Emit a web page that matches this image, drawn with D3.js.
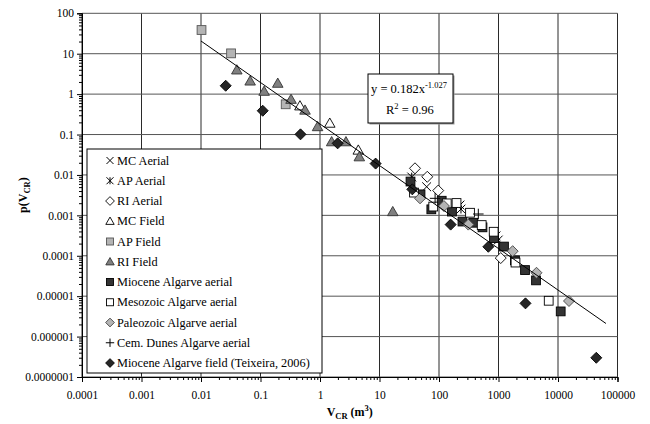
<!DOCTYPE html>
<html>
<head>
<meta charset="utf-8">
<script src="https://cdn.jsdelivr.net/npm/d3@7"></script>
<style>
  body { margin: 0; background: #fff; }
  text { font-family: "Liberation Serif", "Times New Roman", serif; }
</style>
</head>
<body>
<div id="chart"></div>
<script>
// series values [V_CR (m3), p(V_CR)]
var mcAerial = [[62, 0.0051], [225, 0.0018], [990, 0.000245]];
var apAerial = [[34.8, 0.0089], [234, 0.00143], [908, 0.00031]];
var riAerial = [[39.5, 0.0146], [63.5, 0.009], [97, 0.0041], [1090, 0.0000877]];
var mcField = [[0.46, 0.51], [1.46, 0.19], [4.4, 0.041]];
var apField = [[0.0102, 38.6], [0.032, 10.2], [0.265, 0.56]];
var riField = [[0.04, 3.95], [0.067, 2.1], [0.195, 1.85], [0.115, 1.17], [0.326, 0.74], [0.56, 0.40],
    [0.91, 0.156], [1.57, 0.066], [2.73, 0.066], [4.58, 0.028], [16.7, 0.00123]];
var mioceneAerial = [[33.2, 0.00687], [48.9, 0.00331], [74.3, 0.00141], [111, 0.0023], [165, 0.00124],
    [248, 0.000703], [377, 0.000656], [538, 0.000505], [840, 0.000274], [1236, 0.000169],
    [1890, 0.0000769], [2790, 0.0000443], [4270, 0.0000246], [11100, 0.0000042]];
var mesozoicAerial = [[38, 0.00366], [80, 0.00165], [135, 0.00198], [197, 0.00202], [332, 0.00116],
    [522, 0.000575], [830, 0.000393], [1930, 0.0000679], [6980, 0.0000077]];
var paleozoicAerial = [[48, 0.00264], [121, 0.0017], [311, 0.00059], [1730, 0.00013], [4350, 0.0000379],
    [15300, 0.0000076]];
var cemDunesAerial = [[86, 0.00264], [458, 0.00108]];
var mioceneField = [[0.026, 1.61], [0.109, 0.388], [0.47, 0.101], [1.98, 0.0605], [8.6, 0.0191],
    [35.6, 0.0044], [157, 0.00059], [675, 0.000167], [2840, 0.00000664], [44000, 0.000000299]];

// power trend line y = a * x^b
var trendA = 0.182;
var trendB = -1.027;
var trendRange = [0.01, 64000];

var xTickLabels = ["0.0001", "0.001", "0.01", "0.1", "1", "10", "100", "1000", "10000", "100000"];
var yTickLabels = ["0.0000001", "0.000001", "0.00001", "0.0001", "0.001", "0.01", "0.1", "1", "10", "100"];

var seriesList = [
    { name: "MC Aerial", data: mcAerial, shape: "x" },
    { name: "AP Aerial", data: apAerial, shape: "star" },
    { name: "RI Aerial", data: riAerial, shape: "diamond", fill: "#fff", stroke: "#000" },
    { name: "MC Field", data: mcField, shape: "triangle", fill: "#fff", stroke: "#000" },
    { name: "AP Field", data: apField, shape: "square", fill: "#b4b4b4", stroke: "#555" },
    { name: "RI Field", data: riField, shape: "triangle", fill: "#808080", stroke: "#333" },
    { name: "Miocene Algarve aerial", data: mioceneAerial, shape: "square", fill: "#333", stroke: "#000" },
    { name: "Mesozoic Algarve aerial", data: mesozoicAerial, shape: "square", fill: "#fff", stroke: "#000" },
    { name: "Paleozoic Algarve aerial", data: paleozoicAerial, shape: "diamond", fill: "#b4b4b4", stroke: "#444" },
    { name: "Cem. Dunes Algarve aerial", data: cemDunesAerial, shape: "plus" },
    { name: "Miocene Algarve field (Teixeira, 2006)", data: mioceneField, shape: "diamond", fill: "#262626", stroke: "#000" }
];

var svgWidth = 650;
var svgHeight = 424;
var margin = { top: 13.3, right: 32.5, bottom: 47, left: 82 };
var width = svgWidth - margin.left - margin.right;
var height = svgHeight - margin.top - margin.bottom;

var svg = d3.select("#chart")
    .append("svg")
    .attr("width", svgWidth)
    .attr("height", svgHeight);

var chartGroup = svg.append("g")
    .attr("transform", `translate(${margin.left}, ${margin.top})`);

var x = d3.scaleLog().domain([1e-4, 1e5]).range([0, width]);
var y = d3.scaleLog().domain([1e-7, 100]).range([height, 0]);

var xDecades = d3.range(-4, 6).map(p => Math.pow(10, p));
var yDecades = d3.range(-7, 3).map(p => Math.pow(10, p));

function minors(decades) {
    var out = [];
    decades.slice(0, -1).forEach(function (d) {
        for (var k = 2; k <= 9; k++) out.push(d * k);
    });
    return out;
}

// gridlines
chartGroup.selectAll(".vgrid")
    .data(xDecades)
    .enter()
    .append("line")
    .attr("x1", d => x(d)).attr("x2", d => x(d))
    .attr("y1", 0).attr("y2", height)
    .attr("stroke", "#2a2a2a")
    .attr("stroke-width", 1);

chartGroup.selectAll(".hgrid")
    .data(yDecades)
    .enter()
    .append("line")
    .attr("x1", 0).attr("x2", width)
    .attr("y1", d => y(d)).attr("y2", d => y(d))
    .attr("stroke", "#555")
    .attr("stroke-width", 1);

// axes
var bottomAxis = d3.axisBottom(x).tickValues(xDecades)
    .tickFormat((d, i) => xTickLabels[i]).tickSize(5).tickPadding(9);
var bottomMinor = d3.axisBottom(x).tickValues(minors(xDecades)).tickFormat("").tickSize(3);
var leftAxis = d3.axisLeft(y).tickValues(yDecades)
    .tickFormat((d, i) => yTickLabels[i]).tickSize(5).tickPadding(3);
var leftMinor = d3.axisLeft(y).tickValues(minors(yDecades)).tickFormat("").tickSize(3);

[chartGroup.append("g").attr("transform", `translate(0, ${height})`).call(bottomAxis),
 chartGroup.append("g").attr("transform", `translate(0, ${height})`).call(bottomMinor),
 chartGroup.append("g").call(leftAxis),
 chartGroup.append("g").call(leftMinor)].forEach(function (g) {
    g.selectAll("path, line").attr("stroke", "#000");
    g.selectAll("text")
        .attr("fill", "#000")
        .style("font-family", '"Liberation Serif", "Times New Roman", serif')
        .style("font-size", "11.5px");
});

// markers
function drawMarker(g, shape, s, fill, stroke) {
    var h = s / 2;
    if (shape === "square") {
        g.append("rect").attr("x", -h).attr("y", -h).attr("width", s).attr("height", s)
            .attr("fill", fill).attr("stroke", stroke).attr("stroke-width", 0.9);
    } else if (shape === "diamond") {
        var r = h * 1.25;
        g.append("path").attr("d", `M0,${-r}L${r},0L0,${r}L${-r},0Z`)
            .attr("fill", fill).attr("stroke", stroke).attr("stroke-width", 0.9);
    } else if (shape === "triangle") {
        var t = h * 1.2;
        g.append("path").attr("d", `M0,${-t}L${t},${t * 0.75}L${-t},${t * 0.75}Z`)
            .attr("fill", fill).attr("stroke", stroke).attr("stroke-width", 0.9);
    } else if (shape === "x") {
        g.append("path").attr("d", `M${-h},${-h}L${h},${h}M${-h},${h}L${h},${-h}`)
            .attr("stroke", "#000").attr("stroke-width", 1).attr("fill", "none");
    } else if (shape === "star") {
        g.append("path").attr("d", `M${-h},${-h}L${h},${h}M${-h},${h}L${h},${-h}M0,${-h}L0,${h}`)
            .attr("stroke", "#000").attr("stroke-width", 1).attr("fill", "none");
    } else if (shape === "plus") {
        g.append("path").attr("d", `M${-h * 1.2},0L${h * 1.2},0M0,${-h * 1.2}L0,${h * 1.2}`)
            .attr("stroke", "#000").attr("stroke-width", 1).attr("fill", "none");
    }
}

var markerSize = 8.8;
seriesList.forEach(function (s) {
    var grp = chartGroup.append("g");
    grp.selectAll("g")
        .data(s.data)
        .enter()
        .append("g")
        .attr("transform", d => `translate(${x(d[0])}, ${y(d[1])})`)
        .each(function () { drawMarker(d3.select(this), s.shape, markerSize, s.fill, s.stroke); });
});

// trend line
var trendPts = [trendRange[0], trendRange[1]].map(v => [v, trendA * Math.pow(v, trendB)]);
chartGroup.append("path")
    .datum(trendPts)
    .attr("d", d3.line().x(d => x(d[0])).y(d => y(d[1])))
    .attr("stroke", "#000")
    .attr("stroke-width", 1)
    .attr("fill", "none");

// equation box
var eqBox = svg.append("g").attr("transform", "translate(368, 74)");
eqBox.append("rect").attr("x", 1.5).attr("y", 1.5).attr("width", 85).attr("height", 49).attr("fill", "#999");
eqBox.append("rect").attr("width", 85).attr("height", 49).attr("fill", "#fff").attr("stroke", "#000").attr("stroke-width", 1);
var eq1 = eqBox.append("text").attr("x", 3).attr("y", 19).style("font-size", "12.5px");
eq1.append("tspan").text("y = 0.182x");
eq1.append("tspan").attr("dy", -5).style("font-size", "8.5px").text("-1.027");
var eq2 = eqBox.append("text").attr("x", 18).attr("y", 40).style("font-size", "12.5px");
eq2.append("tspan").text("R");
eq2.append("tspan").attr("dy", -5).style("font-size", "8.5px").text("2");
eq2.append("tspan").attr("dy", 5).text(" = 0.96");

// legend
var legend = svg.append("g").attr("transform", "translate(87, 149)");
legend.append("rect").attr("width", 235).attr("height", 224)
    .attr("fill", "#fff").attr("stroke", "#000").attr("stroke-width", 1);
seriesList.forEach(function (s, i) {
    var row = legend.append("g").attr("transform", `translate(23, ${11.5 + i * 20.25})`);
    drawMarker(row, s.shape, 7, s.fill, s.stroke);
    row.append("text").attr("x", 7).attr("y", 4.2).style("font-size", "12.3px").text(s.name);
});

// axis titles
var xTitle = svg.append("text")
    .attr("x", margin.left + width / 2)
    .attr("y", 416)
    .attr("text-anchor", "middle")
    .attr("font-weight", "bold")
    .style("font-size", "12px");
xTitle.append("tspan").text("V");
xTitle.append("tspan").attr("dy", 3).style("font-size", "8.5px").text("CR");
xTitle.append("tspan").attr("dy", -3).text(" (m");
xTitle.append("tspan").attr("dy", -5).style("font-size", "8.5px").text("3");
xTitle.append("tspan").attr("dy", 5).text(")");

var yTitle = svg.append("text")
    .attr("transform", `translate(27, ${margin.top + height / 2}) rotate(-90)`)
    .attr("text-anchor", "middle")
    .attr("font-weight", "bold")
    .style("font-size", "12px");
yTitle.append("tspan").text("p(V");
yTitle.append("tspan").attr("dy", 3).style("font-size", "8.5px").text("CR");
yTitle.append("tspan").attr("dy", -3).text(")");
</script>
</body>
</html>
